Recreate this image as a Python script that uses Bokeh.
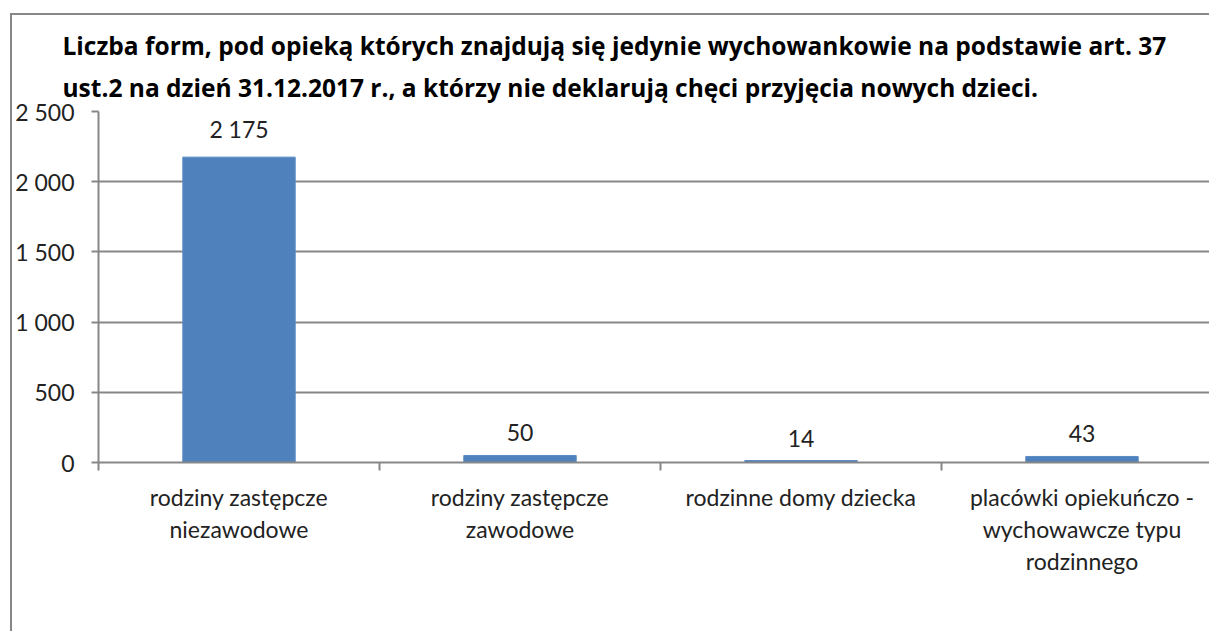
from bokeh.plotting import figure
from bokeh.models import Range1d, FixedTicker, Title, ColumnDataSource
from bokeh.core.properties import value
from bokeh.embed import file_html
from bokeh.resources import INLINE

# ---- data ----
categories = ["rodziny zastępcze\nniezawodowe",
              "rodziny zastępcze\nzawodowe",
              "rodzinne domy dziecka",
              "placówki opiekuńczo -\nwychowawcze typu\nrodzinnego"]
counts = [2175, 50, 14, 43]
count_labels = ["2 175", "50", "14", "43"]
y_ticks = [0, 500, 1000, 1500, 2000, 2500]
y_tick_labels = ["0", "500", "1 000", "1 500", "2 000", "2 500"]
title_lines = ["Liczba form, pod opieką których znajdują się jedynie wychowankowie na podstawie art. 37",
               "ust.2 na dzień 31.12.2017 r., a którzy nie deklarują chęci przyjęcia nowych  dzieci."]

FONT = "Lato"
TFONT = "Open Sans"
GRAY = "#878787"
TXT = "#222222"
BLUE = "#4F81BD"

# the chart box runs past the right edge of the window, as in the reference
W, H = 1205, 618
LEFT, TOP = 86, 96
BOTTOM = H - 447
n = len(categories)
centers = [i + 0.5 for i in range(n)]
x_end = (W - LEFT) / 281.0

p = figure(width=W, height=H, output_backend="svg", toolbar_location=None,
           x_range=Range1d(0, x_end), y_range=Range1d(0, 2500),
           min_border_left=LEFT, min_border_right=0, min_border_top=TOP,
           min_border_bottom=BOTTOM, title=None)
p.margin = (13, 0, 0, 10)
p.styles = {"border-left": "2px solid #878787", "border-top": "2px solid #878787"}
p.outline_line_color = None
p.background_fill_color = "white"
p.border_fill_color = "white"

for i, line in enumerate(reversed(title_lines)):
    p.add_layout(Title(text=line, align="left", text_font=TFONT, text_font_size="24.5px",
                       text_font_style="bold", text_color="black", offset=-36,
                       standoff=15 if i == 0 else 0), "above")

src = ColumnDataSource(dict(x=centers, top=counts, lab=count_labels))
p.vbar(x="x", top="top", width=0.4, source=src, fill_color=BLUE,
       line_color="#5a8ac6", line_width=1)
p.text(x="x", y="top", text="lab", source=src, text_align="center",
       text_baseline="bottom", y_offset=-14, text_font=value(FONT),
       text_font_size="23px", text_color=TXT)

yax = p.yaxis[0]
yax.ticker = FixedTicker(ticks=y_ticks)
yax.major_label_overrides = {t: l for t, l in zip(y_ticks, y_tick_labels)}
yax.minor_tick_line_color = None
yax.major_tick_in = 0
yax.major_tick_out = 7
yax.major_tick_line_color = GRAY
yax.major_tick_line_width = 2
yax.axis_line_color = GRAY
yax.axis_line_width = 2
yax.major_label_standoff = 17
yax.major_label_text_font = FONT
yax.major_label_text_font_size = "23px"
yax.major_label_text_color = TXT

# x axis: labels at category centres, ticks at category boundaries
xax = p.xaxis[0]
xax.ticker = FixedTicker(ticks=centers, minor_ticks=list(range(n + 1)))
xax.major_label_overrides = {c: l for c, l in zip(centers, categories)}
xax.major_tick_line_color = None
xax.minor_tick_in = 0
xax.minor_tick_out = 8
xax.minor_tick_line_color = GRAY
xax.minor_tick_line_width = 2
xax.axis_line_color = GRAY
xax.axis_line_width = 2
xax.major_label_standoff = 12
xax.major_label_text_font = FONT
xax.major_label_text_font_size = "23px"
xax.major_label_text_color = TXT
xax.major_label_text_line_height = 1.15

p.xgrid.grid_line_color = None
p.ygrid.ticker = FixedTicker(ticks=y_ticks)
p.ygrid.grid_line_color = GRAY
p.ygrid.grid_line_width = 2

open("out.html", "w").write(file_html(p, INLINE))
